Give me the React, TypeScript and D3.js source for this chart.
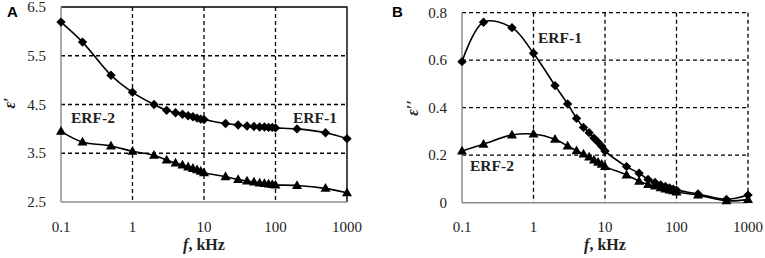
import React from "react";
import * as d3 from "d3";

const freq = [0.1, 0.2, 0.5, 1, 2, 3, 4, 5, 6, 7, 8, 9, 10, 20, 30, 40, 50, 60, 70, 80, 90, 100, 200, 500, 1000];
const epsReal1 = [6.19, 5.78, 5.1, 4.75, 4.5, 4.38, 4.33, 4.3, 4.27, 4.25, 4.22, 4.2, 4.19, 4.11, 4.08, 4.06, 4.05, 4.04, 4.04, 4.03, 4.03, 4.02, 4.0, 3.92, 3.8];
const epsReal2 = [3.95, 3.73, 3.65, 3.54, 3.46, 3.36, 3.3, 3.26, 3.22, 3.19, 3.16, 3.13, 3.1, 3.02, 2.96, 2.93, 2.91, 2.89, 2.88, 2.87, 2.86, 2.85, 2.84, 2.78, 2.69];
const epsImag1 = [0.594, 0.76, 0.737, 0.629, 0.493, 0.416, 0.355, 0.317, 0.295, 0.272, 0.255, 0.238, 0.218, 0.152, 0.124, 0.098, 0.085, 0.075, 0.068, 0.062, 0.057, 0.053, 0.037, 0.014, 0.032];
const epsImag2 = [0.218, 0.246, 0.285, 0.289, 0.267, 0.239, 0.219, 0.205, 0.192, 0.18, 0.17, 0.162, 0.152, 0.117, 0.09, 0.077, 0.07, 0.063, 0.058, 0.054, 0.05, 0.045, 0.032, 0.008, 0.014];
const xTicks = [0.1, 1, 10, 100, 1000];
const xTickLabels = ["0.1", "1", "10", "100", "1000"];
const yTicksA = [2.5, 3.5, 4.5, 5.5, 6.5];
const yTicksB = [0, 0.2, 0.4, 0.6, 0.8];

const SERIF = "Liberation Serif";
const SANS = "Liberation Sans";

type PanelProps = {
  x0: number; x1: number; yTop: number; yBot: number;
  yDomain: [number, number]; yTicks: number[]; yFmt: (v: number) => string;
  s1: number[]; s2: number[];
  solidFrame: boolean;
  letter: string; letterX: number;
  yTitle: string; yTitleX: number; yTitleY: number;
  lab1: [number, number]; lab2: [number, number];
};

function Diamond({ x, y }: { x: number; y: number }) {
  const r = 4.7;
  return <path d={`M${x},${y - r}L${x + r},${y}L${x},${y + r}L${x - r},${y}Z`} fill="#000" />;
}
function Triangle({ x, y }: { x: number; y: number }) {
  const w = 5, h = 8.8;
  return <path d={`M${x},${y - h * 0.6}L${x + w},${y + h * 0.4}L${x - w},${y + h * 0.4}Z`} fill="#000" />;
}

function Panel(p: PanelProps) {
  const xs = d3.scaleLog().domain([0.1, 1000]).range([p.x0, p.x1]);
  const ys = d3.scaleLinear().domain(p.yDomain).range([p.yBot, p.yTop]);
  const line = d3.line<number>()
    .x((_, i) => xs(freq[i]))
    .y((d) => ys(d))
    .curve(d3.curveCatmullRom.alpha(0.5));
  const dash = "4,3";
  const midX = (p.x0 + p.x1) / 2;
  const serif = { fontFamily: SERIF };
  return (
    <g>
      {xTicks.slice(1, p.solidFrame ? 4 : 5).map((t) => (
        <line key={"vx" + t} x1={xs(t)} x2={xs(t)} y1={p.yTop} y2={p.yBot} stroke="#000" strokeWidth={1.3} strokeDasharray={dash} />
      ))}
      {p.yTicks.slice(1, p.solidFrame ? p.yTicks.length - 1 : p.yTicks.length).map((t) => (
        <line key={"hy" + t} x1={p.x0} x2={p.x1} y1={ys(t)} y2={ys(t)} stroke="#000" strokeWidth={1.3} strokeDasharray={dash} />
      ))}
      {p.solidFrame && (
        <path d={`M${p.x0},${p.yTop}H${p.x1}V${p.yBot}`} fill="none" stroke="#000" strokeWidth={1.4} />
      )}
      <line x1={p.x0} x2={p.x0} y1={p.yTop} y2={p.yBot} stroke="#8c8c8c" strokeWidth={1.5} />
      <line x1={p.x0} x2={p.x1} y1={p.yBot} y2={p.yBot} stroke="#8c8c8c" strokeWidth={1.5} />
      {p.yTicks.map((t) => (
        <text key={"yl" + t} x={p.x0 - 15} y={ys(t) + 5} textAnchor="end" style={serif} fontSize={15} fill="#222">{p.yFmt(t)}</text>
      ))}
      {xTicks.map((t, i) => (
        <text key={"xl" + t} x={xs(t)} y={232} textAnchor="middle" style={serif} fontSize={15} fill="#222">{xTickLabels[i]}</text>
      ))}
      <text x={midX} y={250} textAnchor="middle" style={serif} fontSize={16} fontWeight="bold" fill="#222">
        <tspan fontStyle="italic">f</tspan>, kHz
      </text>
      <text transform={`translate(${p.yTitleX},${p.yTitleY}) rotate(-90)`} textAnchor="middle" style={serif} fontSize={16} fontWeight="bold" fontStyle="italic" fill="#222">{p.yTitle}</text>
      <text x={p.letterX} y={17} style={{ fontFamily: SANS }} fontSize={15} fontWeight="bold" fill="#000">{p.letter}</text>
      <path d={line(p.s1) || ""} fill="none" stroke="#000" strokeWidth={1.6} />
      <path d={line(p.s2) || ""} fill="none" stroke="#000" strokeWidth={1.6} />
      {p.s1.map((v, i) => <Diamond key={"d" + i} x={xs(freq[i])} y={ys(v)} />)}
      {p.s2.map((v, i) => <Triangle key={"t" + i} x={xs(freq[i])} y={ys(v)} />)}
      <text x={p.lab1[0]} y={p.lab1[1]} style={serif} fontSize={15.5} fontWeight="bold" fill="#222">ERF-1</text>
      <text x={p.lab2[0]} y={p.lab2[1]} style={serif} fontSize={15.5} fontWeight="bold" fill="#222">ERF-2</text>
    </g>
  );
}

export default function App() {
  return (
    <svg width={765} height={258} style={{ position: "absolute", left: 0, top: 0, background: "#fff" }}>
      <rect width={765} height={258} fill="#fff" />
      <Panel
        x0={61} x1={347} yTop={7} yBot={202}
        yDomain={[2.5, 6.5]} yTicks={yTicksA} yFmt={(v) => v.toFixed(1)}
        s1={epsReal1} s2={epsReal2} solidFrame={true}
        letter="A" letterX={7}
        yTitle={"ε′"} yTitleX={15} yTitleY={103}
        lab1={[293, 123]} lab2={[71, 123]}
      />
      <Panel
        x0={462} x1={748} yTop={12.7} yBot={202.7}
        yDomain={[0, 0.8]} yTicks={yTicksB} yFmt={(v) => (v === 0 ? "0" : v.toFixed(1))}
        s1={epsImag1} s2={epsImag2} solidFrame={false}
        letter="B" letterX={392}
        yTitle={"ε′′"} yTitleX={418} yTitleY={108}
        lab1={[538, 42.5]} lab2={[470, 171]}
      />
    </svg>
  );
}
